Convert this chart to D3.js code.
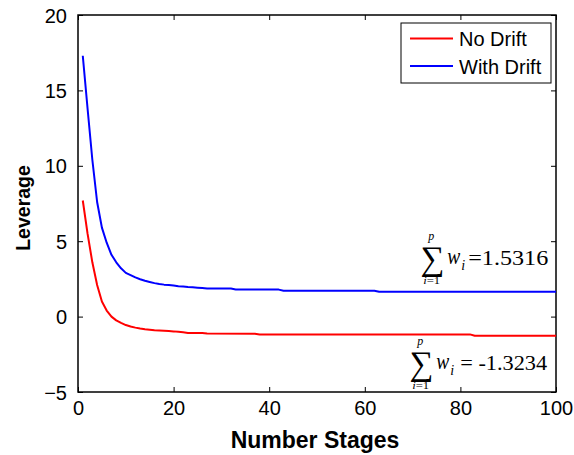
<!DOCTYPE html>
<html>
<head>
<meta charset="utf-8">
<script src="https://cdn.jsdelivr.net/npm/d3@7"></script>
<style>
  html, body { margin: 0; padding: 0; background: #fff; }
  svg { display: block; }
</style>
</head>
<body>
<svg id="chart" width="574" height="455"></svg>
<script>
// ---- data ----
const seriesNames = ["No Drift", "With Drift"];
const seriesColors = ["#ff0000", "#0000ff"];

const noDriftStages = [1,2,3,4,5,6,7,8,9,10,11,12,13,14,15,16,17,18,19,20,21,22,23,26,27,37,38,82,83,100];
const noDriftValues = [7.7,5.5,3.6,2.1,1.0,0.4,0.0,-0.25,-0.42,-0.56,-0.66,-0.73,-0.79,-0.84,-0.87,-0.9,-0.92,-0.94,-0.96,-0.98,-1.01,-1.04,-1.08,-1.09,-1.12,-1.13,-1.18,-1.18,-1.27,-1.27];

const withDriftStages = [1,2,3,4,5,6,7,8,9,10,11,12,13,14,15,16,17,18,19,20,21,22,23,24,25,26,27,32,33,42,43,62,63,100];
const withDriftValues = [17.3,13.8,10.4,7.6,5.9,4.9,4.1,3.6,3.2,2.9,2.75,2.6,2.48,2.38,2.3,2.22,2.16,2.12,2.09,2.06,2.02,1.99,1.96,1.94,1.92,1.9,1.87,1.86,1.8,1.79,1.72,1.72,1.65,1.65];

const xTicks = [0, 20, 40, 60, 80, 100];
const yTicks = [-5, 0, 5, 10, 15, 20];

const annotValues = ["=1.5316", "= -1.3234"];

(function () {
// ---- layout ----
const svg = d3.select("#chart");
const pLeft = 78, pRight = 556, pTop = 15, pBottom = 392;
const x = d3.scaleLinear().domain([0, 100]).range([pLeft, pRight]);
const y = d3.scaleLinear().domain([-5, 20]).range([pBottom, pTop]);

const sans = "'Liberation Sans', Arial, sans-serif";
const serif = "'Liberation Serif', 'Times New Roman', serif";

// axes with inward ticks
const tickLen = 5;
const axB = svg.append("g").attr("transform", `translate(0,${pBottom})`)
  .call(d3.axisBottom(x).tickValues(xTicks).tickSizeInner(-tickLen).tickSizeOuter(0).tickPadding(9));
const axT = svg.append("g").attr("transform", `translate(0,${pTop})`)
  .call(d3.axisTop(x).tickValues(xTicks).tickSizeInner(-tickLen).tickSizeOuter(0).tickFormat(""));
const axL = svg.append("g").attr("transform", `translate(${pLeft},0)`)
  .call(d3.axisLeft(y).tickValues(yTicks).tickSizeInner(-tickLen).tickSizeOuter(0).tickPadding(11));
const axR = svg.append("g").attr("transform", `translate(${pRight},0)`)
  .call(d3.axisRight(y).tickValues(yTicks).tickSizeInner(-tickLen).tickSizeOuter(0).tickFormat(""));

[axB, axT, axL, axR].forEach(a => {
  a.selectAll(".domain").remove();
  a.selectAll(".tick line").attr("stroke", "#000").attr("stroke-width", 1);
  a.selectAll("text").attr("font-family", sans).attr("font-size", 20).attr("fill", "#000");
});
axL.selectAll("text").attr("dy", "0.35em");

// box
svg.append("rect")
  .attr("x", pLeft).attr("y", pTop)
  .attr("width", pRight - pLeft).attr("height", pBottom - pTop)
  .attr("fill", "none").attr("stroke", "#000").attr("stroke-width", 1.5);

// lines
const line = d3.line().x(d => x(d[0])).y(d => y(d[1]));
const series = [
  d3.zip(noDriftStages, noDriftValues),
  d3.zip(withDriftStages, withDriftValues)
];
series.forEach((s, i) => {
  svg.append("path").datum(s)
    .attr("d", line)
    .attr("fill", "none")
    .attr("stroke", seriesColors[i])
    .attr("stroke-width", 2)
    .attr("stroke-linejoin", "round");
});

// axis labels
svg.append("text")
  .attr("x", (pLeft + pRight) / 2 - 2).attr("y", 448)
  .attr("text-anchor", "middle")
  .attr("font-family", sans).attr("font-weight", "bold").attr("font-size", 23)
  .text("Number Stages");
svg.append("text")
  .attr("transform", "translate(30,208) rotate(-90)")
  .attr("text-anchor", "middle")
  .attr("font-family", sans).attr("font-weight", "bold").attr("font-size", 19.5)
  .text("Leverage");

// legend
const lg = svg.append("g");
lg.append("rect").attr("x", 401).attr("y", 23).attr("width", 150).attr("height", 60)
  .attr("fill", "#fff").attr("stroke", "#000").attr("stroke-width", 1);
seriesNames.forEach((n, i) => {
  const ly = 38.5 + i * 27.5;
  lg.append("line").attr("x1", 410).attr("x2", 453).attr("y1", ly).attr("y2", ly)
    .attr("stroke", seriesColors[i]).attr("stroke-width", 2);
  lg.append("text").attr("x", 459).attr("y", ly + 7.5)
    .attr("font-family", sans).attr("font-size", 20).text(n);
});

// annotations: sum_{i=1}^{p} w_i = value
function sumAnnot(ax, ay, value, eqDx, eqLen) {
  const g = svg.append("g").attr("transform", `translate(${ax},${ay})`).attr("fill", "#000");
  g.append("text").attr("x", -1).attr("y", 0).attr("font-family", serif).attr("font-size", 34)
    .attr("textLength", 24).attr("lengthAdjust", "spacingAndGlyphs").text("\u2211");
  g.append("text").attr("x", 7).attr("y", -30).attr("font-family", serif).attr("font-style", "italic")
    .attr("font-size", 12).text("p");
  g.append("text").attr("x", 2).attr("y", 14).attr("font-family", serif)
    .attr("font-size", 11).attr("textLength", 17).attr("lengthAdjust", "spacingAndGlyphs")
    .html("<tspan font-style='italic'>i</tspan>=1");
  g.append("text").attr("x", 26).attr("y", -6).attr("font-family", serif).attr("font-style", "italic")
    .attr("font-size", 24).attr("textLength", 13).attr("lengthAdjust", "spacingAndGlyphs").text("w");
  g.append("text").attr("x", 40).attr("y", 0).attr("font-family", serif).attr("font-style", "italic")
    .attr("font-size", 14).text("i");
  g.append("text").attr("x", eqDx).attr("y", -5).attr("font-family", serif)
    .attr("font-size", 20).attr("textLength", eqLen).attr("lengthAdjust", "spacingAndGlyphs")
    .text(value);
}
sumAnnot(x(71.8), y(3.09), annotValues[0], 47, 80);
sumAnnot(x(69.5), y(-3.87), annotValues[1], 50, 87);
})();
</script>
</body>
</html>
